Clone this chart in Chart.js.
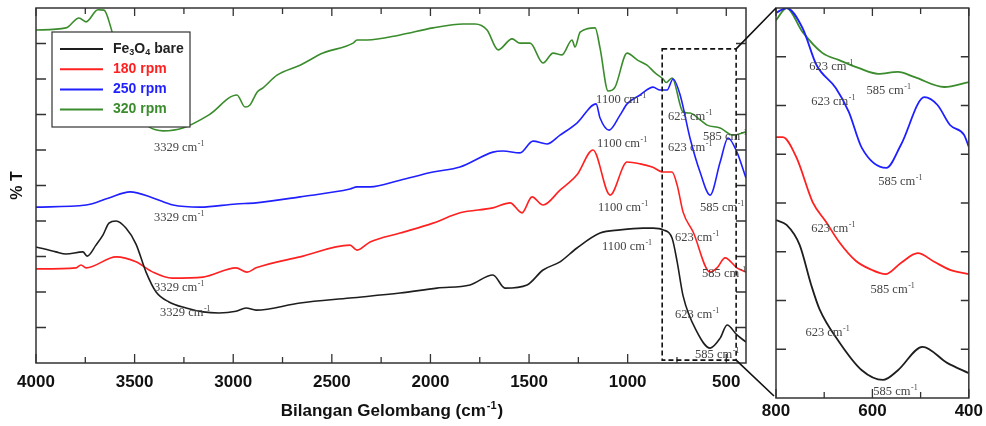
<!DOCTYPE html>
<html>
<head>
<meta charset="utf-8">
<script src="https://cdn.jsdelivr.net/npm/chart.js@4.4.0/dist/chart.umd.min.js"></script>
<style>
  html, body { margin: 0; padding: 0; background: #fff; }
  #wrap { position: relative; width: 986px; height: 426px; }
  #wrap canvas { position: absolute; left: 0; top: 0; }
</style>
</head>
<body>
<div id="wrap">
  <canvas id="main" width="986" height="426"></canvas>
  <canvas id="inset" width="986" height="426"></canvas>
</div>
<script>
// full spectra (wavenumber, %T)
const bareWn = [4000,3899,3848,3762,3741,3696,3660,3630,3594,3544,3493,3442,3391,3326,3239,3153,3072,2986,2935,2884,2661,2408,2154,1967,1799,1683,1622,1510,1429,1343,1257,1140,1038,922,871,820,775,749,719,648,582,531,496,446,400];
const bareT  = [32.7,31.3,30.7,31.3,30.1,33.2,36.1,39.4,40.0,38.0,33.5,25.6,20.0,17.2,15.5,14.4,14.1,14.6,15.5,14.9,16.9,18.3,19.7,21.1,22.0,24.8,21.1,22.0,26.2,28.5,32.4,36.6,37.5,38.0,38.0,37.5,35.2,28.5,18.9,8.7,4.2,7.0,10.7,7.9,5.9];

const rpm180Wn = [4000,3797,3772,3746,3594,3493,3407,3310,3153,2986,2930,2884,2661,2408,2372,2306,2154,1987,1850,1683,1596,1536,1485,1429,1343,1257,1176,1089,1003,937,876,820,775,749,719,668,582,547,506,446,400];
const rpm180T  = [26.5,26.8,27.6,26.8,29.9,28.5,25.6,23.9,24.2,26.8,25.6,26.8,29.9,33.2,31.8,34.1,36.6,39.4,42.3,43.7,45.1,42.3,46.8,44.5,48.7,53.0,60.0,47.3,56.6,56.1,55.2,53.8,53.8,50.1,42.5,36.9,25.6,26.8,29.6,26.8,25.6];

const rpm250Wn = [4000,3746,3630,3523,3407,3305,3168,2986,2884,2661,2408,2372,2306,2154,1987,1850,1683,1632,1546,1480,1409,1343,1257,1160,1140,1094,1038,1003,937,871,836,800,770,734,684,633,582,531,491,446,400];
const rpm250T  = [43.9,44.5,46.5,48.2,46.5,44.5,43.9,44.8,45.1,46.8,49.0,49.6,49.6,51.5,53.8,55.2,59.4,59.7,59.2,62.5,61.7,64.2,67.6,73.0,69.0,65.6,69.9,73.0,75.5,77.7,76.9,76.9,80.0,75.5,63.4,53.8,47.3,56.6,63.4,59.4,52.1];

const rpm320Wn = [4000,3848,3782,3746,3686,3655,3620,3549,3473,3427,3356,3255,3123,2981,2940,2915,2879,2849,2778,2661,2545,2392,2372,2321,2154,1987,1835,1774,1713,1657,1586,1546,1495,1429,1378,1333,1282,1267,1241,1165,1140,1099,1064,1003,952,902,861,820,805,775,719,684,633,597,531,466,400];
const rpm320T  = [93.8,94.4,97.2,96.1,99.5,99.4,94.4,78.3,69.0,66.5,65.4,66.2,69.9,75.5,72.1,72.7,76.3,77.5,81.1,83.9,87.3,90.1,91.0,91.0,92.4,94.4,95.5,95.5,93.8,88.2,91.3,90.1,90.1,84.5,87.3,86.8,91.0,89.0,93.2,94.4,88.7,76.6,77.7,87.3,85.4,83.9,81.7,80.0,79.0,80.3,70.7,70.4,68.5,67.0,66.2,64.2,65.1];

// zoomed 800-400 region
const inBareWn = [800,778,751,727,710,669,622,578,547,496,445,400];
const inBareT  = [36.5,35.5,31.4,23.2,18.3,11.5,5.7,3.7,5.7,10.5,7.2,5.1];
const in180Wn  = [800,786,757,724,696,669,634,602,573,541,506,471,439,400];
const in180T   = [53.5,53.5,49.2,40.2,36.1,32.0,28.1,26.3,25.4,27.7,29.7,27.9,26.3,25.4];
const in250Wn  = [800,778,745,716,676,649,622,571,541,492,465,439,410,400];
const in250T   = [79.0,80.0,75.9,68.3,63.6,58.7,51.3,47.2,51.9,61.7,60.1,56.0,54.0,51.5];
const in320Wn  = [800,778,745,704,669,629,588,547,512,451,400];
const in320T   = [77.5,80.0,75.1,70.8,69.3,67.7,66.5,66.9,65.8,63.8,64.8];

const seriesNames  = ['Fe3O4 bare', '180 rpm', '250 rpm', '320 rpm'];
const seriesColors = ['#1e1e1e', '#ff2020', '#1f1fff', '#3a8c2c'];

const mainTicks  = [4000, 3500, 3000, 2500, 2000, 1500, 1000, 500];
const mainMinor  = [3750, 3250, 2750, 2250, 1750, 1250, 750];
const insetTicks = [800, 600, 400];
const insetMinor = [700, 500];

// peak labels: [number, wavenumber, %T]
const mainNotes = [
  ['3329', 3402, 60.6], ['3329', 3402, 40.8], ['3329', 3402, 21.1], ['3329', 3371, 14.1],
  ['1100', 1160, 74.1], ['1100', 1155, 61.7], ['1100', 1150, 43.7], ['1100', 1130, 32.7],
  ['623', 795, 69.3], ['623', 795, 60.6], ['585', 618, 63.7], ['585', 633, 43.7],
  ['623', 760, 35.2], ['585', 623, 25.1], ['623', 760, 13.5], ['585', 658, 2.3]
];
const insetNotes = [
  ['623', 731, 67.9], ['585', 612, 63.0], ['623', 727, 60.7], ['585', 588, 44.3],
  ['623', 727, 34.7], ['585', 604, 22.2], ['623', 739, 13.3], ['585', 598, 1.2]
];

const zoomWn = [825, 450];
const zoomT  = [0.8, 88.5];

const pts = (xs, ys) => xs.map((x, i) => ({ x, y: ys[i] }));

function sets(list, width) {
  return list.map((d, i) => ({
    label: seriesNames[i],
    data: pts(d[0], d[1]),
    borderColor: seriesColors[i],
    borderWidth: width,
    pointRadius: 0,
    cubicInterpolationMode: 'monotone',
    fill: false,
  }));
}

function note(ctx, x, y, num) {
  ctx.save();
  ctx.fillStyle = '#444';
  ctx.textBaseline = 'middle';
  ctx.textAlign = 'left';
  ctx.font = '12.5px "Liberation Serif", serif';
  const t = num + ' cm';
  ctx.fillText(t, x, y);
  const w = ctx.measureText(t).width;
  ctx.font = '8px "Liberation Serif", serif';
  ctx.fillText('-1', x + w + 0.5, y - 4);
  ctx.restore();
}

function frame(chart, o) {
  const { ctx, chartArea: a, scales } = chart;
  ctx.save();
  ctx.strokeStyle = '#333';
  ctx.lineWidth = 1.5;
  ctx.strokeRect(a.left, a.top, a.right - a.left, a.bottom - a.top);
  ctx.lineWidth = 1.3;
  ctx.beginPath();
  o.xMajor.forEach(v => {
    const px = scales.x.getPixelForValue(v);
    ctx.moveTo(px, a.bottom); ctx.lineTo(px, a.bottom - 9);
    ctx.moveTo(px, a.top); ctx.lineTo(px, a.top + 8);
  });
  o.xMinor.forEach(v => {
    const px = scales.x.getPixelForValue(v);
    ctx.moveTo(px, a.bottom); ctx.lineTo(px, a.bottom - 6);
    ctx.moveTo(px, a.top); ctx.lineTo(px, a.top + 6);
  });
  o.yTicks.forEach(v => {
    const py = scales.y.getPixelForValue(v);
    ctx.moveTo(a.left, py); ctx.lineTo(a.left + o.yLen[0], py);
    ctx.moveTo(a.right, py); ctx.lineTo(a.right - o.yLen[1], py);
  });
  ctx.stroke();
  ctx.restore();
}

function labelWithSubs(ctx, text, x, y) {
  let cx = x;
  for (let i = 0; i < text.length; i++) {
    const ch = text[i];
    const sub = /\d/.test(ch) && i > 0 && /[A-Za-z]/.test(text[i - 1]);
    ctx.font = sub ? 'bold 9px "Liberation Sans", Arial' : 'bold 14px "Liberation Sans", Arial';
    ctx.fillText(ch, cx, sub ? y + 4 : y);
    cx += ctx.measureText(ch).width;
  }
}

const mainPlugin = {
  id: 'mainDecor',
  afterDatasetsDraw(chart) {
    const { ctx, chartArea: a, scales } = chart;
    frame(chart, { xMajor: mainTicks, xMinor: mainMinor, yTicks: [10,20,30,40,50,60,70,80,90], yLen: [10, 10] });

    // zoom box
    const bx1 = scales.x.getPixelForValue(zoomWn[0]);
    const bx2 = scales.x.getPixelForValue(zoomWn[1]);
    const by1 = scales.y.getPixelForValue(zoomT[1]);
    const by2 = scales.y.getPixelForValue(zoomT[0]);
    ctx.save();
    ctx.setLineDash([5, 3]);
    ctx.lineWidth = 1.6;
    ctx.strokeStyle = '#111';
    ctx.strokeRect(bx1, by1, bx2 - bx1, by2 - by1);
    ctx.restore();

    mainNotes.forEach(n => note(ctx, scales.x.getPixelForValue(n[1]), scales.y.getPixelForValue(n[2]), n[0]));

    // axis titles
    ctx.save();
    ctx.fillStyle = '#111';
    ctx.textBaseline = 'middle';
    ctx.font = 'bold 17px "Liberation Sans", Arial';
    const t1 = 'Bilangan Gelombang (cm', t2 = '-1', t3 = ')';
    const w1 = ctx.measureText(t1).width, w3 = ctx.measureText(t3).width;
    ctx.font = 'bold 11px "Liberation Sans", Arial';
    const w2 = ctx.measureText(t2).width;
    const cx = (a.left + a.right) / 2;
    let sx = cx - (w1 + w2 + w3) / 2;
    const ty = 411;
    ctx.font = 'bold 17px "Liberation Sans", Arial';
    ctx.fillText(t1, sx, ty);
    ctx.font = 'bold 11px "Liberation Sans", Arial';
    ctx.fillText(t2, sx + w1 + 1, ty - 5);
    ctx.font = 'bold 17px "Liberation Sans", Arial';
    ctx.fillText(t3, sx + w1 + w2 + 2, ty);

    ctx.translate(18, (a.top + a.bottom) / 2);
    ctx.rotate(-Math.PI / 2);
    ctx.textAlign = 'center';
    ctx.font = 'bold 16px "Liberation Sans", Arial';
    ctx.fillText('% T', 0, 0);
    ctx.restore();

    // legend
    ctx.save();
    ctx.fillStyle = '#fff';
    ctx.fillRect(52, 32, 138, 95);
    ctx.strokeStyle = '#333';
    ctx.lineWidth = 1.2;
    ctx.strokeRect(52, 32, 138, 95);
    ctx.textBaseline = 'middle';
    chart.data.datasets.forEach((ds, i) => {
      const y = 49 + i * 20.2;
      ctx.strokeStyle = ds.borderColor;
      ctx.lineWidth = 2;
      ctx.beginPath(); ctx.moveTo(60, y); ctx.lineTo(103, y); ctx.stroke();
      ctx.fillStyle = i === 0 ? '#222' : ds.borderColor;
      labelWithSubs(ctx, ds.label, 113, y);
    });
    ctx.restore();
  }
};

const tickFont = { family: '"Liberation Sans", Arial', size: 17, weight: 'bold' };

const mainChart = new Chart(document.getElementById('main'), {
  type: 'line',
  data: {
    datasets: sets([[bareWn, bareT], [rpm180Wn, rpm180T], [rpm250Wn, rpm250T], [rpm320Wn, rpm320T]], 1.6)
  },
  options: {
    responsive: false,
    animation: false,
    layout: { padding: { left: 36, right: 240, top: 8, bottom: 0 } },
    plugins: { legend: { display: false }, tooltip: { enabled: false } },
    scales: {
      x: {
        type: 'linear', reverse: true, min: 400, max: 4000,
        afterBuildTicks: s => { s.ticks = mainTicks.map(v => ({ value: v })); },
        afterFit: s => { s.height = 63; },
        grid: { display: false, drawTicks: false },
        border: { display: false },
        ticks: { padding: 9, color: '#111', font: tickFont, maxRotation: 0, callback: v => String(v) }
      },
      y: { display: false, min: 0, max: 100 }
    }
  },
  plugins: [mainPlugin]
});

const insetPlugin = {
  id: 'insetDecor',
  afterDatasetsDraw(chart) {
    const { ctx, chartArea: a, scales } = chart;
    frame(chart, { xMajor: insetTicks, xMinor: insetMinor, yTicks: [10,20,30,40,50,60,70], yLen: [10, 8] });
    insetNotes.forEach(n => note(ctx, scales.x.getPixelForValue(n[1]), scales.y.getPixelForValue(n[2]), n[0]));

    // connector lines from the zoom box
    const ms = mainChart.scales;
    const bx = ms.x.getPixelForValue(zoomWn[1]);
    const byTop = ms.y.getPixelForValue(zoomT[1]);
    const byBot = ms.y.getPixelForValue(zoomT[0]);
    ctx.save();
    ctx.strokeStyle = '#111';
    ctx.lineWidth = 1.6;
    ctx.beginPath();
    ctx.moveTo(bx, byTop); ctx.lineTo(a.left, a.top);
    ctx.moveTo(bx, byBot); ctx.lineTo(a.left - 2, a.bottom - 2);
    ctx.stroke();
    ctx.restore();
  }
};

new Chart(document.getElementById('inset'), {
  type: 'line',
  data: {
    datasets: sets([[inBareWn, inBareT], [in180Wn, in180T], [in250Wn, in250T], [in320Wn, in320T]], 1.8)
  },
  options: {
    responsive: false,
    animation: false,
    layout: { padding: { left: 776, right: 14, top: 8, bottom: 0 } },
    plugins: { legend: { display: false }, tooltip: { enabled: false } },
    scales: {
      x: {
        type: 'linear', reverse: true, min: 400, max: 800,
        afterBuildTicks: s => { s.ticks = insetTicks.map(v => ({ value: v })); },
        afterFit: s => { s.height = 28; },
        grid: { display: false, drawTicks: false },
        border: { display: false },
        ticks: { padding: 3, color: '#111', font: tickFont, maxRotation: 0, callback: v => String(v) }
      },
      y: { display: false, min: 0, max: 80 }
    }
  },
  plugins: [insetPlugin]
});
</script>
</body>
</html>
